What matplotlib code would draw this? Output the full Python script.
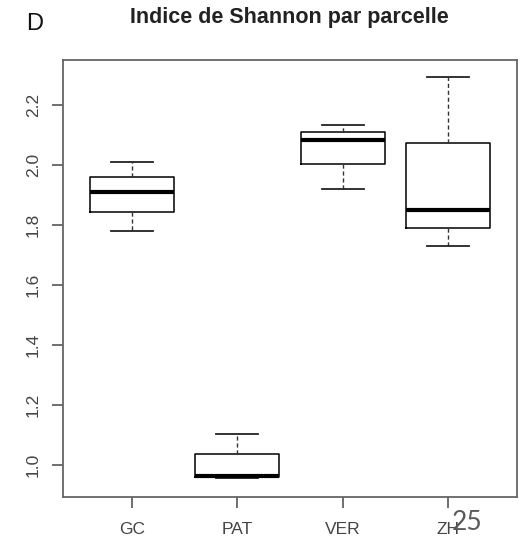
import matplotlib
matplotlib.use("Agg")
import matplotlib.pyplot as plt

# Shannon index per plot
parcelles = ["GC", "PAT", "VER", "ZH"]
whis_lo = [1.781, 0.955, 1.920, 1.729]
q1 = [1.844, 0.960, 2.004, 1.789]
medians = [1.911, 0.962, 2.084, 1.850]
q3 = [1.959, 1.036, 2.110, 2.072]
whis_hi = [2.009, 1.103, 2.133, 2.294]
yticks = [1.0, 1.2, 1.4, 1.6, 1.8, 2.0, 2.2]

plt.rcParams.update({
    "font.family": ["Liberation Sans", "DejaVu Sans"],
})

fig = plt.figure(figsize=(5.19, 5.36), dpi=100)
ax = fig.add_axes([63 / 519, 1 - 497 / 536, 454 / 519, 437 / 536])

stats = [dict(label=p, whislo=lo, q1=a, med=m, q3=b, whishi=hi, fliers=[])
         for p, lo, a, m, b, hi in zip(parcelles, whis_lo, q1, medians, q3, whis_hi)]
ax.bxp(stats, positions=range(1, len(stats) + 1), widths=0.8, capwidths=0.4,
       boxprops=dict(color="black", linewidth=1.1),
       medianprops=dict(color="black", linewidth=3.0, solid_capstyle="butt"),
       whiskerprops=dict(color="#333333", linewidth=1.0, linestyle=(0, (3, 2))),
       capprops=dict(color="#222222", linewidth=1.3),
       showfliers=False)

ax.set_xlim(0.34, 4.66)
ax.set_ylim(0.893, 2.35)
ax.set_yticks(yticks)
ax.set_yticklabels([f"{v:.1f}" for v in yticks], rotation=90, va="center")
ax.set_xticks(range(1, len(parcelles) + 1))
ax.set_xticklabels(parcelles)

for side in ax.spines.values():
    side.set_color("#666666")
    side.set_linewidth(1.3)
ax.tick_params(axis="both", length=8, width=1.2, color="#555555",
               labelcolor="#444444", labelsize=12.5)
ax.tick_params(axis="y", pad=8)
ax.tick_params(axis="x", pad=10)

fig.text(289 / 519, 1 - 18 / 536, "Indice de Shannon par parcelle",
         ha="center", va="center", fontsize=15.5, fontweight="bold", color="#222222")
fig.text(35 / 519, 1 - 24 / 536, "D", ha="center", va="center",
         fontsize=17, color="#111111")
# page number overlapping the ZH label, as in the scanned figure
fig.text(467 / 519, 1 - 522 / 536, "25", ha="center", va="center",
         fontsize=19, color="#5a5a5a", family=["Lato", "DejaVu Sans"])

fig.savefig("out.png", dpi=100)
